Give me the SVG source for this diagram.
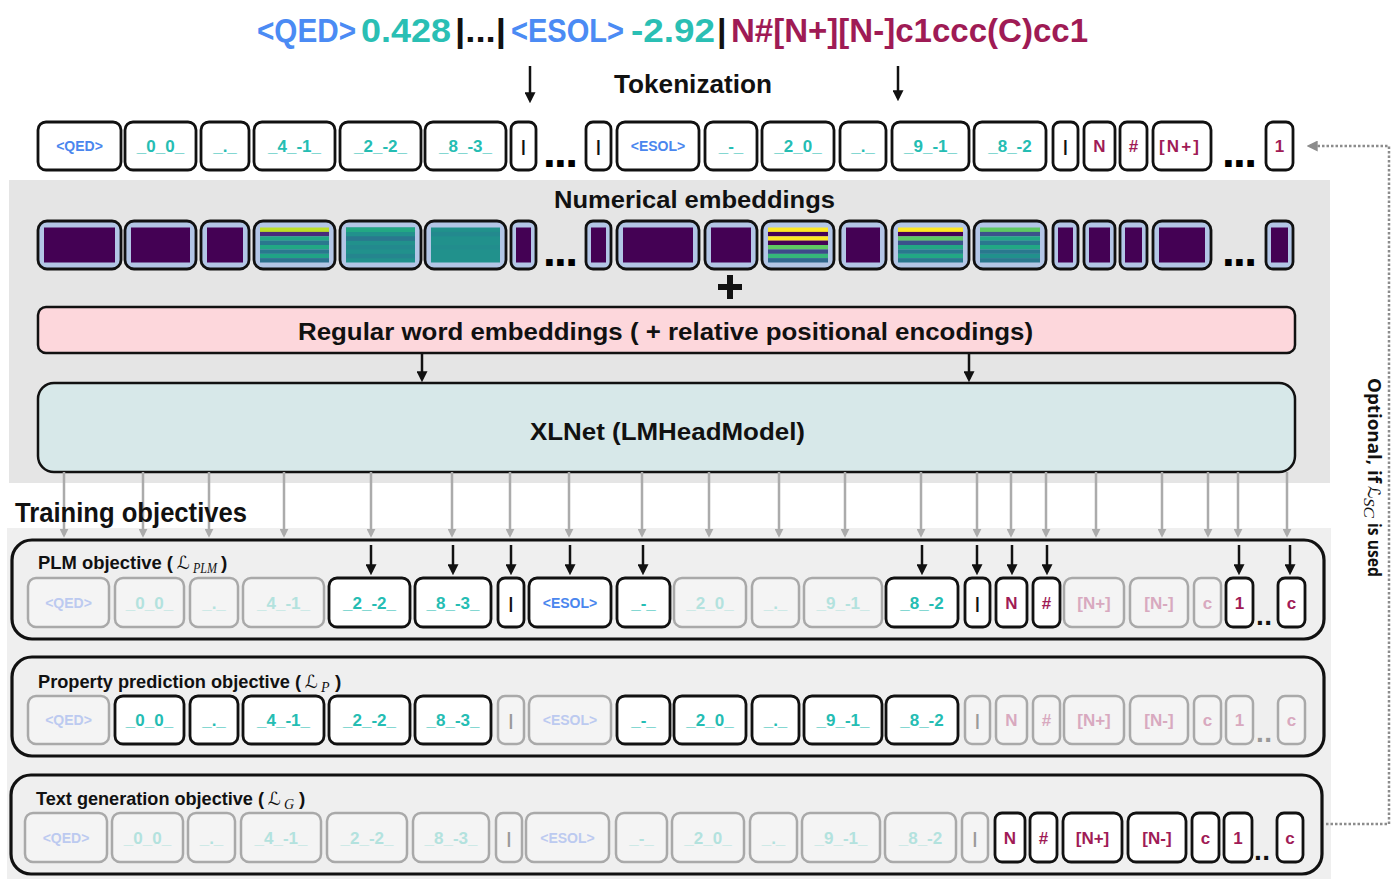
<svg xmlns="http://www.w3.org/2000/svg" width="1392" height="879" viewBox="0 0 1392 879">
<style>
.lbl{font-family:'Liberation Sans',Arial,sans-serif;font-weight:bold;fill:#111}
.tt{font-family:'Liberation Sans',Arial,sans-serif;font-weight:bold;font-size:17px;text-anchor:middle}
.sm{font-size:14px}
.on rect{fill:#fff;stroke:#111;stroke-width:2.8}
.off rect{fill:#f4f4f4;stroke:#a9a9a9;stroke-width:2.5}
.teal{fill:#25bdb3}.blue{fill:#4a86ee}.mar{fill:#a01b56}.blk{fill:#111}
.fteal{fill:#b3e2de}.fblue{fill:#bccaf0}.fmar{fill:#d8a9bf}.fblk{fill:#9a9a9a}
.emb rect.o{fill:#b3c6e6;stroke:#111;stroke-width:2.8}
.pu{fill:#440154}
.m{font-family:'DejaVu Sans','DejaVu Serif',serif;font-weight:normal;font-style:italic;fill:#111}
.ms{font-family:'Liberation Serif','DejaVu Serif',serif;font-style:italic;font-weight:normal;fill:#111}
.ga{stroke:#ababab;stroke-width:2.5;fill:none}
.ba{stroke:#111;stroke-width:2.5;fill:none}
.dots{font-family:'Liberation Sans',Arial,sans-serif;font-weight:bold}
</style>
<defs>
<marker id="ag" viewBox="0 0 10 10" refX="7" refY="5" markerWidth="9" markerHeight="9" markerUnits="userSpaceOnUse" orient="auto"><path d="M0,0 L10,5 L0,10 z" fill="#ababab"/></marker>
<marker id="ab" viewBox="0 0 10 10" refX="7" refY="5" markerWidth="11" markerHeight="11" markerUnits="userSpaceOnUse" orient="auto"><path d="M0,0 L10,5 L0,10 z" fill="#111"/></marker>
<marker id="ad" viewBox="0 0 10 10" refX="7" refY="5" markerWidth="11" markerHeight="11" markerUnits="userSpaceOnUse" orient="auto"><path d="M0,0 L10,5 L0,10 z" fill="#8c8c8c"/></marker>
</defs>
<rect width="1392" height="879" fill="#fff"/>
<!-- panels -->
<rect x="9" y="180" width="1321" height="303" fill="#e5e5e5"/>
<rect x="7" y="528" width="1324" height="351" fill="#efefef"/>

<!-- title -->
<g id="title" class="lbl" font-size="34">
<text x="257" y="42" textLength="99" lengthAdjust="spacingAndGlyphs" style="fill:#4b8bf4">&lt;QED&gt;</text>
<text x="361" y="42" textLength="90" lengthAdjust="spacingAndGlyphs" style="fill:#2abfb4">0.428</text>
<text x="455" y="42" textLength="51" lengthAdjust="spacingAndGlyphs">|...|</text>
<text x="511" y="42" textLength="113" lengthAdjust="spacingAndGlyphs" style="fill:#4b8bf4">&lt;ESOL&gt;</text>
<text x="631" y="42" textLength="84" lengthAdjust="spacingAndGlyphs" style="fill:#2abfb4">-2.92</text>
<text x="717" y="42">|</text>
<text x="731" y="42" textLength="357" lengthAdjust="spacingAndGlyphs" style="fill:#9f1b55">N#[N+][N-]c1ccc(C)cc1</text>
</g>
<text id="tokenization" class="lbl" x="614" y="93" font-size="25" textLength="158" lengthAdjust="spacingAndGlyphs">Tokenization</text>

<!-- token row -->
<g id="tokens">
<g id="t1" class="on"><rect x="38" y="122" width="83" height="48" rx="8"/><text class="tt sm blue" x="79.5" y="151">&lt;QED&gt;</text></g>
<g id="t2" class="on"><rect x="125" y="122" width="71" height="48" rx="8"/><text class="tt teal" x="160.5" y="152">_0_0_</text></g>
<g id="t3" class="on"><rect x="201" y="122" width="48" height="48" rx="8"/><text class="tt teal" x="225" y="152">_._</text></g>
<g id="t4" class="on"><rect x="254" y="122" width="81" height="48" rx="8"/><text class="tt teal" x="294.5" y="152">_4_-1_</text></g>
<g id="t5" class="on"><rect x="340" y="122" width="81" height="48" rx="8"/><text class="tt teal" x="380.5" y="152">_2_-2_</text></g>
<g id="t6" class="on"><rect x="425" y="122" width="81" height="48" rx="8"/><text class="tt teal" x="465.5" y="152">_8_-3_</text></g>
<g id="t7" class="on"><rect x="511" y="122" width="25" height="48" rx="7"/><text class="tt blk" x="523.5" y="152">|</text></g>
<text class="dots" x="543" y="167" font-size="46" textLength="35" lengthAdjust="spacing">...</text>
<g id="t8" class="on"><rect x="586" y="122" width="25" height="48" rx="7"/><text class="tt blk" x="598.5" y="152">|</text></g>
<g id="t9" class="on"><rect x="617" y="122" width="82" height="48" rx="8"/><text class="tt sm blue" x="658" y="151">&lt;ESOL&gt;</text></g>
<g id="t10" class="on"><rect x="705" y="122" width="52" height="48" rx="8"/><text class="tt teal" x="731" y="152">_-_</text></g>
<g id="t11" class="on"><rect x="762" y="122" width="72" height="48" rx="8"/><text class="tt teal" x="798" y="152">_2_0_</text></g>
<g id="t12" class="on"><rect x="840" y="122" width="46" height="48" rx="8"/><text class="tt teal" x="863" y="152">_._</text></g>
<g id="t13" class="on"><rect x="892" y="122" width="77" height="48" rx="8"/><text class="tt teal" x="930.5" y="152">_9_-1_</text></g>
<g id="t14" class="on"><rect x="974" y="122" width="72" height="48" rx="8"/><text class="tt teal" x="1010" y="152">_8_-2</text></g>
<g id="t15" class="on"><rect x="1053" y="122" width="25" height="48" rx="7"/><text class="tt blk" x="1065.5" y="152">|</text></g>
<g id="t16" class="on"><rect x="1084" y="122" width="31" height="48" rx="7"/><text class="tt mar" x="1099.5" y="152">N</text></g>
<g id="t17" class="on"><rect x="1120" y="122" width="27" height="48" rx="7"/><text class="tt mar" x="1133.5" y="152">#</text></g>
<g id="t18" class="on"><rect x="1153" y="122" width="58" height="48" rx="8"/><text class="tt mar" x="1179" y="152" textLength="40" lengthAdjust="spacing">[N+]</text></g>
<text class="dots" x="1222" y="167" font-size="46" textLength="35" lengthAdjust="spacing">...</text>
<g id="t19" class="on"><rect x="1266" y="122" width="27" height="48" rx="7"/><text class="tt mar" x="1279.5" y="152">1</text></g>
</g>

<text id="numlabel" class="lbl" x="554" y="208" font-size="23" textLength="281" lengthAdjust="spacingAndGlyphs">Numerical embeddings</text>

<!-- numerical embeddings -->
<g id="embeddings" class="emb">
<g id="e1"><rect class="o" x="38" y="221" width="83" height="48" rx="9"/><rect class="pu" x="44" y="227.5" width="71" height="35"/></g>
<g id="e2"><rect class="o" x="125" y="221" width="71" height="48" rx="9"/><rect class="pu" x="131" y="227.5" width="59" height="35"/></g>
<g id="e3"><rect class="o" x="201" y="221" width="48" height="48" rx="9"/><rect class="pu" x="207" y="227.5" width="36" height="35"/></g>
<g id="e4"><rect class="o" x="254" y="221" width="81" height="48" rx="9"/>
<rect x="260" y="227.5" width="69" height="4.5" fill="#bcdf27"/><rect x="260" y="231.9" width="69" height="4.5" fill="#472c7a"/><rect x="260" y="236.3" width="69" height="4.5" fill="#22a884"/><rect x="260" y="240.6" width="69" height="4.5" fill="#2a788e"/><rect x="260" y="245" width="69" height="4.5" fill="#22a884"/><rect x="260" y="249.4" width="69" height="4.5" fill="#2a788e"/><rect x="260" y="253.8" width="69" height="4.5" fill="#20a386"/><rect x="260" y="258.1" width="69" height="4.4" fill="#2c728e"/></g>
<g id="e5"><rect class="o" x="340" y="221" width="81" height="48" rx="9"/>
<rect x="346" y="227.5" width="69" height="35" fill="#21918c"/><rect x="346" y="227.5" width="69" height="4.5" fill="#22a884"/><rect x="346" y="236.3" width="69" height="4.5" fill="#2a788e"/><rect x="346" y="245" width="69" height="4.5" fill="#23898e"/><rect x="346" y="253.8" width="69" height="4.5" fill="#25858e"/></g>
<g id="e6"><rect class="o" x="425" y="221" width="81" height="48" rx="9"/>
<rect x="431" y="227.5" width="69" height="35" fill="#21918c"/><rect x="431" y="231.9" width="69" height="4.5" fill="#23898e"/><rect x="431" y="245" width="69" height="4.5" fill="#228d8d"/></g>
<g id="e7"><rect class="o" x="511" y="221" width="25" height="48" rx="7"/><rect class="pu" x="516" y="227.5" width="15" height="35"/></g>
<text class="dots" x="543" y="266" font-size="46" textLength="35" lengthAdjust="spacing">...</text>
<g id="e8"><rect class="o" x="586" y="221" width="25" height="48" rx="7"/><rect class="pu" x="591" y="227.5" width="15" height="35"/></g>
<g id="e9"><rect class="o" x="617" y="221" width="82" height="48" rx="9"/><rect class="pu" x="623" y="227.5" width="70" height="35"/></g>
<g id="e10"><rect class="o" x="705" y="221" width="52" height="48" rx="9"/><rect class="pu" x="711" y="227.5" width="40" height="35"/></g>
<g id="e11"><rect class="o" x="762" y="221" width="72" height="48" rx="9"/>
<rect x="768" y="227.5" width="60" height="4.5" fill="#fde725"/><rect x="768" y="231.9" width="60" height="4.5" fill="#440154"/><rect x="768" y="236.3" width="60" height="4.5" fill="#fde725"/><rect x="768" y="240.6" width="60" height="4.5" fill="#440154"/><rect x="768" y="245" width="60" height="4.5" fill="#5ec962"/><rect x="768" y="249.4" width="60" height="4.5" fill="#3e4a89"/><rect x="768" y="253.8" width="60" height="4.5" fill="#35b779"/><rect x="768" y="258.1" width="60" height="4.4" fill="#31688e"/></g>
<g id="e12"><rect class="o" x="840" y="221" width="46" height="48" rx="9"/><rect class="pu" x="846" y="227.5" width="34" height="35"/></g>
<g id="e13"><rect class="o" x="892" y="221" width="77" height="48" rx="9"/>
<rect x="898" y="227.5" width="65" height="4.5" fill="#fde725"/><rect x="898" y="231.9" width="65" height="4.5" fill="#440154"/><rect x="898" y="236.3" width="65" height="4.5" fill="#5ec962"/><rect x="898" y="240.6" width="65" height="4.5" fill="#3b528b"/><rect x="898" y="245" width="65" height="4.5" fill="#22a884"/><rect x="898" y="249.4" width="65" height="4.5" fill="#2a788e"/><rect x="898" y="253.8" width="65" height="4.5" fill="#22a884"/><rect x="898" y="258.1" width="65" height="4.4" fill="#2a788e"/></g>
<g id="e14"><rect class="o" x="974" y="221" width="72" height="48" rx="9"/>
<rect x="980" y="227.5" width="60" height="4.5" fill="#5ec962"/><rect x="980" y="231.9" width="60" height="4.5" fill="#3b528b"/><rect x="980" y="236.3" width="60" height="4.5" fill="#22a884"/><rect x="980" y="240.6" width="60" height="4.5" fill="#2a788e"/><rect x="980" y="245" width="60" height="4.5" fill="#22a884"/><rect x="980" y="249.4" width="60" height="4.5" fill="#2a788e"/><rect x="980" y="253.8" width="60" height="4.5" fill="#21918c"/><rect x="980" y="258.1" width="60" height="4.4" fill="#2a788e"/></g>
<g id="e15"><rect class="o" x="1053" y="221" width="25" height="48" rx="7"/><rect class="pu" x="1058" y="227.5" width="15" height="35"/></g>
<g id="e16"><rect class="o" x="1084" y="221" width="31" height="48" rx="7"/><rect class="pu" x="1089" y="227.5" width="21" height="35"/></g>
<g id="e17"><rect class="o" x="1120" y="221" width="27" height="48" rx="7"/><rect class="pu" x="1125" y="227.5" width="17" height="35"/></g>
<g id="e18"><rect class="o" x="1153" y="221" width="58" height="48" rx="9"/><rect class="pu" x="1159" y="227.5" width="46" height="35"/></g>
<text class="dots" x="1222" y="266" font-size="46" textLength="35" lengthAdjust="spacing">...</text>
<g id="e19"><rect class="o" x="1266" y="221" width="27" height="48" rx="7"/><rect class="pu" x="1271" y="227.5" width="17" height="35"/></g>
</g>

<path id="plus" d="M730,275 V299 M718,287 H742" stroke="#111" stroke-width="6"/>

<g id="regular">
<rect x="38" y="307" width="1257" height="46" rx="8" fill="#fdd7dc" stroke="#111" stroke-width="2.5"/>
<text class="lbl" x="298" y="340" font-size="24" textLength="735" lengthAdjust="spacingAndGlyphs">Regular word embeddings ( + relative positional encodings)</text>
</g>
<g id="xlnet">
<rect x="38" y="383" width="1257" height="89" rx="16" fill="#d7e8e9" stroke="#111" stroke-width="2.5"/>
<text class="lbl" x="530" y="440" font-size="24" textLength="275" lengthAdjust="spacingAndGlyphs">XLNet (LMHeadModel)</text>
</g>

<!-- connectors -->
<g id="connectors">
<path class="ba" d="M530,66 V100" marker-end="url(#ab)"/>
<path class="ba" d="M898,66 V98" marker-end="url(#ab)"/>
<path class="ba" d="M422,354 V379" marker-end="url(#ab)"/>
<path class="ba" d="M969,354 V379" marker-end="url(#ab)"/>
<g marker-end="url(#ag)">
<path class="ga" d="M64,472 V535"/><path class="ga" d="M143,472 V535"/><path class="ga" d="M209,472 V535"/><path class="ga" d="M284,472 V535"/><path class="ga" d="M371,472 V535"/><path class="ga" d="M452,472 V535"/><path class="ga" d="M510,472 V535"/><path class="ga" d="M569,472 V535"/><path class="ga" d="M642,472 V535"/><path class="ga" d="M709,472 V535"/><path class="ga" d="M779,472 V535"/><path class="ga" d="M845,472 V535"/><path class="ga" d="M921,472 V535"/><path class="ga" d="M977,472 V535"/><path class="ga" d="M1011,472 V535"/><path class="ga" d="M1046,472 V535"/><path class="ga" d="M1096,472 V535"/><path class="ga" d="M1162,472 V535"/><path class="ga" d="M1208,472 V535"/><path class="ga" d="M1238,472 V535"/><path class="ga" d="M1287,472 V535"/>
</g>
<path d="M1326,824 H1389 V146 H1310" fill="none" stroke="#8c8c8c" stroke-width="2.5" stroke-dasharray="2.5 2" marker-end="url(#ad)"/>
</g>

<text id="training" class="lbl" x="15" y="522" font-size="27" textLength="232" lengthAdjust="spacingAndGlyphs">Training objectives</text>

<!-- PLM objective -->
<g id="plm">
<rect x="12" y="540" width="1312" height="99" rx="20" fill="#efefef" stroke="#111" stroke-width="3.2"/>
<text class="lbl" x="38" y="569" font-size="19" textLength="135" lengthAdjust="spacingAndGlyphs">PLM objective (</text>
<text class="m" x="177" y="569" font-size="18">ℒ</text><text class="ms" x="193" y="573" font-size="14" textLength="24" lengthAdjust="spacingAndGlyphs">PLM</text>
<text class="lbl" x="221" y="569" font-size="19">)</text>
<g class="off"><rect x="28" y="578" width="81" height="49" rx="8"/><text class="tt sm fblue" x="68.5" y="608">&lt;QED&gt;</text></g>
<g class="off"><rect x="115" y="578" width="69" height="49" rx="8"/><text class="tt fteal" x="149.5" y="609">_0_0_</text></g>
<g class="off"><rect x="190" y="578" width="48" height="49" rx="8"/><text class="tt fteal" x="214" y="609">_._</text></g>
<g class="off"><rect x="243" y="578" width="81" height="49" rx="8"/><text class="tt fteal" x="283.5" y="609">_4_-1_</text></g>
<g class="on"><rect x="329" y="578" width="81" height="49" rx="8"/><text class="tt teal" x="369.5" y="609">_2_-2_</text></g>
<g class="on"><rect x="415" y="578" width="76" height="49" rx="8"/><text class="tt teal" x="453" y="609">_8_-3_</text></g>
<g class="on"><rect x="498" y="578" width="26" height="49" rx="7"/><text class="tt blk" x="511" y="609">|</text></g>
<g class="on"><rect x="529" y="578" width="82" height="49" rx="8"/><text class="tt sm blue" x="570" y="608">&lt;ESOL&gt;</text></g>
<g class="on"><rect x="617" y="578" width="53" height="49" rx="8"/><text class="tt teal" x="643.5" y="609">_-_</text></g>
<g class="off"><rect x="674" y="578" width="72" height="49" rx="8"/><text class="tt fteal" x="710" y="609">_2_0_</text></g>
<g class="off"><rect x="752" y="578" width="47" height="49" rx="8"/><text class="tt fteal" x="775.5" y="609">_._</text></g>
<g class="off"><rect x="804" y="578" width="78" height="49" rx="8"/><text class="tt fteal" x="843" y="609">_9_-1_</text></g>
<g class="on"><rect x="886" y="578" width="72" height="49" rx="8"/><text class="tt teal" x="922" y="609">_8_-2</text></g>
<g class="on"><rect x="965" y="578" width="25" height="49" rx="7"/><text class="tt blk" x="977.5" y="609">|</text></g>
<g class="on"><rect x="996" y="578" width="31" height="49" rx="7"/><text class="tt mar" x="1011.5" y="609">N</text></g>
<g class="on"><rect x="1033" y="578" width="27" height="49" rx="7"/><text class="tt mar" x="1046.5" y="609">#</text></g>
<g class="off"><rect x="1064" y="578" width="60" height="49" rx="8"/><text class="tt fmar" x="1094" y="609">[N+]</text></g>
<g class="off"><rect x="1130" y="578" width="58" height="49" rx="8"/><text class="tt fmar" x="1159" y="609">[N-]</text></g>
<g class="off"><rect x="1194" y="578" width="27" height="49" rx="7"/><text class="tt fmar" x="1207.5" y="609">c</text></g>
<g class="on"><rect x="1226" y="578" width="27" height="49" rx="7"/><text class="tt mar" x="1239.5" y="609">1</text></g>
<text class="dots" x="1256" y="625" font-size="28" textLength="16" lengthAdjust="spacing" fill="#111">..</text>
<g class="on"><rect x="1278" y="578" width="27" height="49" rx="7"/><text class="tt mar" x="1291.5" y="609">c</text></g>
<g marker-end="url(#ab)">
<path class="ba" d="M371,545 V572"/><path class="ba" d="M453,545 V572"/><path class="ba" d="M511,545 V572"/><path class="ba" d="M570,545 V572"/><path class="ba" d="M643,545 V572"/><path class="ba" d="M922,545 V572"/><path class="ba" d="M977,545 V572"/><path class="ba" d="M1012,545 V572"/><path class="ba" d="M1047,545 V572"/><path class="ba" d="M1239,545 V572"/><path class="ba" d="M1290,545 V572"/>
</g>
</g>

<!-- Property prediction objective -->
<g id="prop">
<rect x="12" y="657" width="1312" height="99" rx="20" fill="#efefef" stroke="#111" stroke-width="3.2"/>
<text class="lbl" x="38" y="688" font-size="19" textLength="263" lengthAdjust="spacingAndGlyphs">Property prediction objective (</text>
<text class="m" x="305" y="688" font-size="18">ℒ</text><text class="ms" x="321" y="692" font-size="14">P</text>
<text class="lbl" x="335" y="688" font-size="19">)</text>
<g class="off"><rect x="28" y="696" width="81" height="48" rx="8"/><text class="tt sm fblue" x="68.5" y="725">&lt;QED&gt;</text></g>
<g class="on"><rect x="115" y="696" width="69" height="48" rx="8"/><text class="tt teal" x="149.5" y="726">_0_0_</text></g>
<g class="on"><rect x="190" y="696" width="48" height="48" rx="8"/><text class="tt teal" x="214" y="726">_._</text></g>
<g class="on"><rect x="243" y="696" width="81" height="48" rx="8"/><text class="tt teal" x="283.5" y="726">_4_-1_</text></g>
<g class="on"><rect x="329" y="696" width="81" height="48" rx="8"/><text class="tt teal" x="369.5" y="726">_2_-2_</text></g>
<g class="on"><rect x="415" y="696" width="76" height="48" rx="8"/><text class="tt teal" x="453" y="726">_8_-3_</text></g>
<g class="off"><rect x="498" y="696" width="26" height="48" rx="7"/><text class="tt fblk" x="511" y="726">|</text></g>
<g class="off"><rect x="529" y="696" width="82" height="48" rx="8"/><text class="tt sm fblue" x="570" y="725">&lt;ESOL&gt;</text></g>
<g class="on"><rect x="617" y="696" width="53" height="48" rx="8"/><text class="tt teal" x="643.5" y="726">_-_</text></g>
<g class="on"><rect x="674" y="696" width="72" height="48" rx="8"/><text class="tt teal" x="710" y="726">_2_0_</text></g>
<g class="on"><rect x="752" y="696" width="47" height="48" rx="8"/><text class="tt teal" x="775.5" y="726">_._</text></g>
<g class="on"><rect x="804" y="696" width="78" height="48" rx="8"/><text class="tt teal" x="843" y="726">_9_-1_</text></g>
<g class="on"><rect x="886" y="696" width="72" height="48" rx="8"/><text class="tt teal" x="922" y="726">_8_-2</text></g>
<g class="off"><rect x="965" y="696" width="25" height="48" rx="7"/><text class="tt fblk" x="977.5" y="726">|</text></g>
<g class="off"><rect x="996" y="696" width="31" height="48" rx="7"/><text class="tt fmar" x="1011.5" y="726">N</text></g>
<g class="off"><rect x="1033" y="696" width="27" height="48" rx="7"/><text class="tt fmar" x="1046.5" y="726">#</text></g>
<g class="off"><rect x="1064" y="696" width="60" height="48" rx="8"/><text class="tt fmar" x="1094" y="726">[N+]</text></g>
<g class="off"><rect x="1130" y="696" width="58" height="48" rx="8"/><text class="tt fmar" x="1159" y="726">[N-]</text></g>
<g class="off"><rect x="1194" y="696" width="27" height="48" rx="7"/><text class="tt fmar" x="1207.5" y="726">c</text></g>
<g class="off"><rect x="1226" y="696" width="27" height="48" rx="7"/><text class="tt fmar" x="1239.5" y="726">1</text></g>
<text class="dots" x="1256" y="742" font-size="28" textLength="16" lengthAdjust="spacing" fill="#999">..</text>
<g class="off"><rect x="1278" y="696" width="27" height="48" rx="7"/><text class="tt fmar" x="1291.5" y="726">c</text></g>
</g>

<!-- Text generation objective -->
<g id="textgen">
<rect x="11" y="775" width="1311" height="99" rx="20" fill="#efefef" stroke="#111" stroke-width="3.2"/>
<text class="lbl" x="36" y="805" font-size="19" textLength="228" lengthAdjust="spacingAndGlyphs">Text generation objective (</text>
<text class="m" x="268" y="805" font-size="18">ℒ</text><text class="ms" x="284" y="809" font-size="14">G</text>
<text class="lbl" x="299" y="805" font-size="19">)</text>
<g class="off"><rect x="25" y="813" width="82" height="49" rx="8"/><text class="tt sm fblue" x="66" y="843">&lt;QED&gt;</text></g>
<g class="off"><rect x="112" y="813" width="71" height="49" rx="8"/><text class="tt fteal" x="147.5" y="844">_0_0_</text></g>
<g class="off"><rect x="188" y="813" width="47" height="49" rx="8"/><text class="tt fteal" x="211.5" y="844">_._</text></g>
<g class="off"><rect x="241" y="813" width="80" height="49" rx="8"/><text class="tt fteal" x="281" y="844">_4_-1_</text></g>
<g class="off"><rect x="327" y="813" width="80" height="49" rx="8"/><text class="tt fteal" x="367" y="844">_2_-2_</text></g>
<g class="off"><rect x="413" y="813" width="76" height="49" rx="8"/><text class="tt fteal" x="451" y="844">_8_-3_</text></g>
<g class="off"><rect x="496" y="813" width="26" height="49" rx="7"/><text class="tt fblk" x="509" y="844">|</text></g>
<g class="off"><rect x="526" y="813" width="83" height="49" rx="8"/><text class="tt sm fblue" x="567.5" y="843">&lt;ESOL&gt;</text></g>
<g class="off"><rect x="616" y="813" width="51" height="49" rx="8"/><text class="tt fteal" x="641.5" y="844">_-_</text></g>
<g class="off"><rect x="672" y="813" width="72" height="49" rx="8"/><text class="tt fteal" x="708" y="844">_2_0_</text></g>
<g class="off"><rect x="750" y="813" width="47" height="49" rx="8"/><text class="tt fteal" x="773.5" y="844">_._</text></g>
<g class="off"><rect x="802" y="813" width="78" height="49" rx="8"/><text class="tt fteal" x="841" y="844">_9_-1_</text></g>
<g class="off"><rect x="885" y="813" width="71" height="49" rx="8"/><text class="tt fteal" x="920.5" y="844">_8_-2</text></g>
<g class="off"><rect x="962" y="813" width="26" height="49" rx="7"/><text class="tt fblk" x="975" y="844">|</text></g>
<g class="on"><rect x="995" y="813" width="30" height="49" rx="7"/><text class="tt mar" x="1010" y="844">N</text></g>
<g class="on"><rect x="1030" y="813" width="27" height="49" rx="7"/><text class="tt mar" x="1043.5" y="844">#</text></g>
<g class="on"><rect x="1063" y="813" width="59" height="49" rx="8"/><text class="tt mar" x="1092.5" y="844">[N+]</text></g>
<g class="on"><rect x="1128" y="813" width="58" height="49" rx="8"/><text class="tt mar" x="1157" y="844">[N-]</text></g>
<g class="on"><rect x="1192" y="813" width="27" height="49" rx="7"/><text class="tt mar" x="1205.5" y="844">c</text></g>
<g class="on"><rect x="1224" y="813" width="28" height="49" rx="7"/><text class="tt mar" x="1238" y="844">1</text></g>
<text class="dots" x="1254" y="860" font-size="28" textLength="16" lengthAdjust="spacing" fill="#111">..</text>
<g class="on"><rect x="1277" y="813" width="26" height="49" rx="7"/><text class="tt mar" x="1290" y="844">c</text></g>
</g>

<!-- vertical note -->
<g id="optional" transform="translate(1368,0) rotate(90)">
<text x="378" y="0" font-family="'Open Sans','Liberation Sans',sans-serif" font-weight="bold" font-size="18" fill="#111" textLength="105" lengthAdjust="spacingAndGlyphs">Optional, if</text>
<text class="m" x="486" y="0" font-size="17">ℒ</text>
<text class="ms" x="498" y="4" font-size="14" textLength="20" lengthAdjust="spacingAndGlyphs">SC</text>
<text x="523" y="0" font-family="'Open Sans','Liberation Sans',sans-serif" font-weight="bold" font-size="18" fill="#111" textLength="54" lengthAdjust="spacingAndGlyphs">is used</text>
</g>
</svg>
